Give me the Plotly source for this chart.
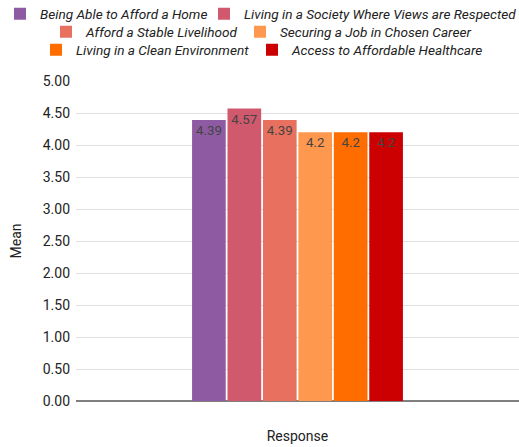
import plotly.graph_objects as go

categories = ["Response"]
series_names = [
    "Being Able to Afford a Home",
    "Living in a Society Where Views are Respected",
    "Afford a Stable Livelihood",
    "Securing a Job in Chosen Career",
    "Living in a Clean Environment",
    "Access to Affordable Healthcare",
]
series_values = [4.39, 4.57, 4.39, 4.2, 4.2, 4.2]
colors = ["#8E5BA3", "#D0596E", "#E8705E", "#FF984F", "#FF6D01", "#CC0000"]
y_ticks = [0, 0.5, 1, 1.5, 2, 2.5, 3, 3.5, 4, 4.5, 5]
y_ticklabels = ["%.2f" % v for v in y_ticks]

W, H = 519, 447
# legend entry placement (legend box left x, row center y) in pixels
legend_pos = [(-6.5, 14), (204, 14), (46, 32), (240, 32), (36, 50), (252, 50)]

fig = go.Figure()
legends = {}
for i, (name, val, col) in enumerate(zip(series_names, series_values, colors)):
    key = "legend" if i == 0 else "legend%d" % (i + 1)
    fig.add_trace(go.Bar(
        x=categories, y=[val], name=name, marker_color=col,
        marker_line_width=0,
        text=[str(val)], textposition="inside", insidetextanchor="end",
        textfont=dict(color="#444444", size=13.3, family="Roboto"),
        textangle=0,
        legend=key, showlegend=True,
    ))
    lx, ly = legend_pos[i]
    legends[key] = dict(
        orientation="h", xref="container", yref="container",
        x=lx / W, y=1 - ly / H, xanchor="left", yanchor="middle",
        font=dict(family="Roboto", size=13.6, color="#222222", style="italic"),
        bgcolor="rgba(0,0,0,0)", itemwidth=30,
    )

fig.update_layout(
    width=W, height=H,
    margin=dict(l=76, r=0, t=81, b=46),
    paper_bgcolor="white", plot_bgcolor="white",
    showlegend=True,
    font=dict(family="Roboto", size=13, color="#222222"),
    barmode="group", bargap=0.52, bargroupgap=0.05,
    xaxis=dict(showticklabels=False, title=dict(text="Response", standoff=30,
               font=dict(size=14, color="#222222")),
               showline=False, ticks=""),
    yaxis=dict(range=[0, 5], tickvals=y_ticks, ticktext=y_ticklabels,
               gridcolor="#E0E0E0", gridwidth=1, zeroline=True,
               zerolinecolor="#7F7F7F", zerolinewidth=2,
               title=dict(text="Mean", standoff=17, font=dict(size=14, color="#222222")),
               tickfont=dict(size=14, color="#222222"), ticks="",
               ticklabelstandoff=5),
    **legends,
)

fig.write_html("out.html")
